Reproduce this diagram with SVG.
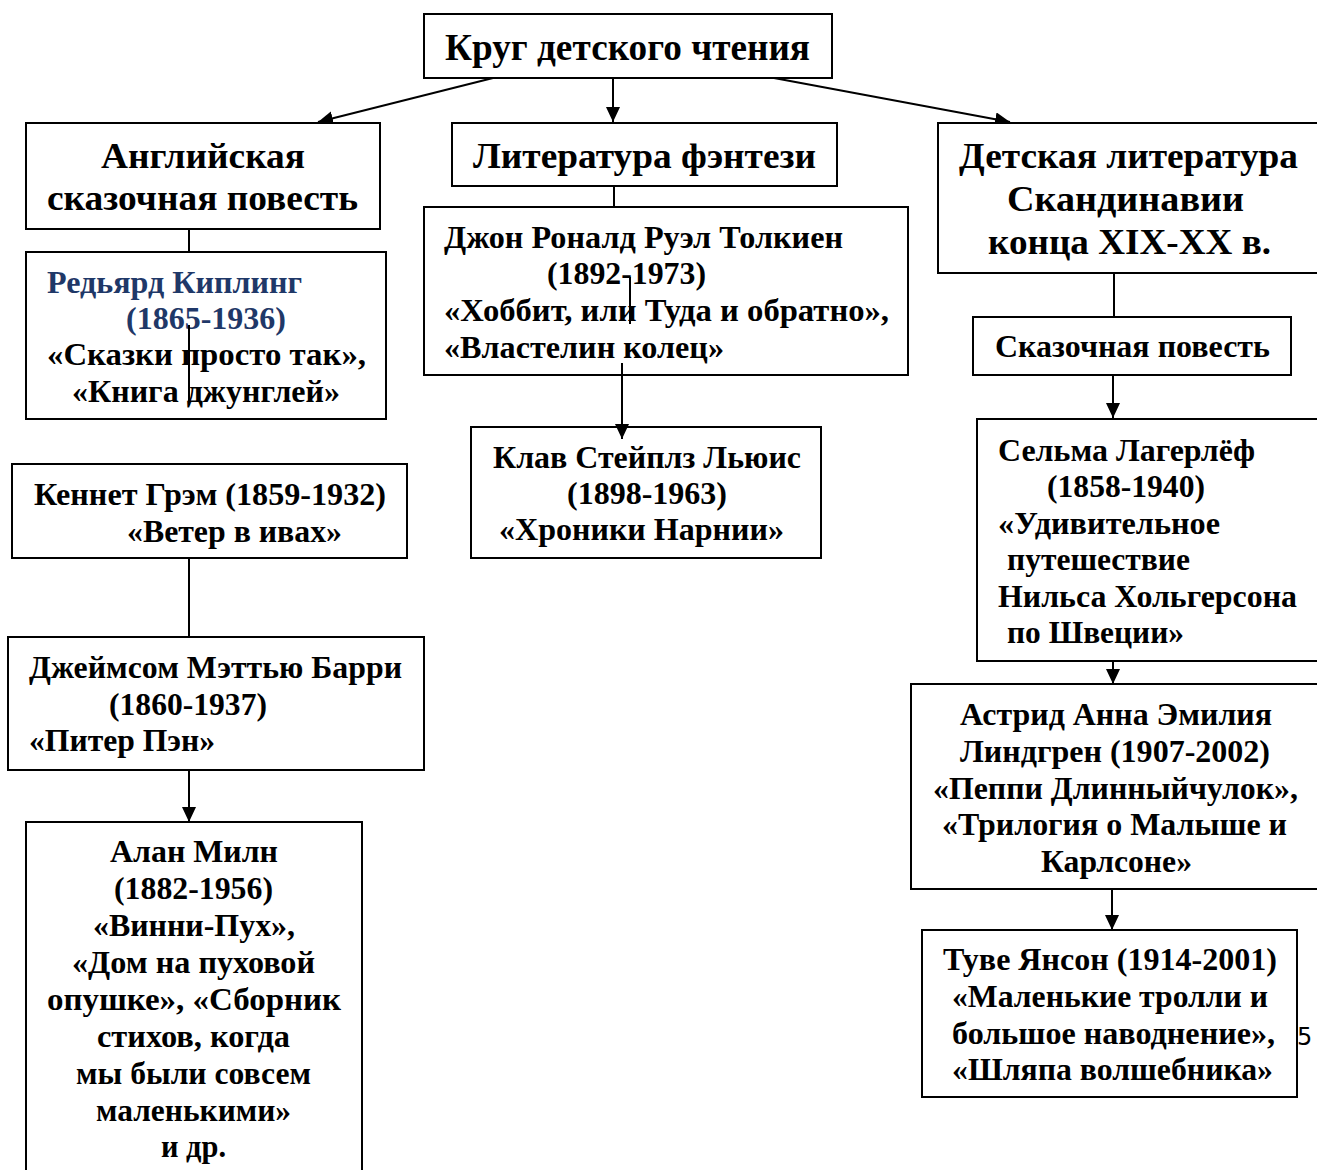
<svg xmlns="http://www.w3.org/2000/svg" width="1317" height="1170" viewBox="0 0 1317 1170">
<style>
rect.box{fill:#fff;stroke:#000;stroke-width:2}
text{font-family:'Liberation Serif','Times New Roman',serif;font-weight:bold;fill:#000}
.h1{font-size:38px}
.h2{font-size:36px}
.t{font-size:32px}
.blue{fill:#1F3868}
.conn line{stroke:#000;stroke-width:2}
.num{font-family:'DejaVu Sans','Liberation Sans',sans-serif;font-weight:normal;font-size:24px}
</style>
<defs>
<marker id="arr" markerUnits="userSpaceOnUse" markerWidth="16" markerHeight="16" refX="15" refY="7" orient="auto">
<path d="M0,0 L15,7 L0,14 z" fill="#000"/>
</marker>
</defs>
<rect width="1317" height="1170" fill="#fff"/>

<g id="connectors" class="conn">
<line x1="493" y1="78" x2="318" y2="122" marker-end="url(#arr)"/>
<line x1="613" y1="78" x2="613" y2="122" marker-end="url(#arr)"/>
<line x1="774" y1="78" x2="1010" y2="122" marker-end="url(#arr)"/>
<line x1="189" y1="229" x2="189" y2="252"/>
<line x1="614" y1="186" x2="614" y2="207"/>
<line x1="1114" y1="273" x2="1114" y2="317"/>
<line x1="189" y1="558" x2="189" y2="637"/>
<line x1="189" y1="770" x2="189" y2="822" marker-end="url(#arr)"/>
<line x1="1113" y1="375" x2="1113" y2="418" marker-end="url(#arr)"/>
<line x1="1113" y1="661" x2="1113" y2="684" marker-end="url(#arr)"/>
<line x1="1112" y1="889" x2="1112" y2="930" marker-end="url(#arr)"/>
</g>

<g id="root">
<rect class="box" x="424" y="14" width="408" height="64"/>
<text class="h1" x="445" y="60" textLength="365" lengthAdjust="spacingAndGlyphs">Круг детского чтения</text>
</g>

<g id="english">
<rect class="box" x="26" y="123" width="354" height="106"/>
<text class="h2" x="101" y="168" textLength="204" lengthAdjust="spacingAndGlyphs">Английская</text>
<text class="h2" x="47" y="210" textLength="311" lengthAdjust="spacingAndGlyphs">сказочная повесть</text>
</g>

<g id="fantasy">
<rect class="box" x="452" y="123" width="385" height="63"/>
<text class="h2" x="473" y="168" textLength="343" lengthAdjust="spacingAndGlyphs">Литература фэнтези</text>
</g>

<g id="scandinavia">
<rect class="box" x="938" y="123" width="420" height="150"/>
<text class="h2" x="959" y="168" textLength="339" lengthAdjust="spacingAndGlyphs">Детская литература</text>
<text class="h2" x="1007" y="211" textLength="237" lengthAdjust="spacingAndGlyphs">Скандинавии</text>
<text class="h2" x="988" y="254" textLength="283" lengthAdjust="spacingAndGlyphs">конца XIX-XX в.</text>
</g>

<g id="kipling">
<rect class="box" x="26" y="252" width="360" height="167"/>
<text class="t blue" x="47" y="293" textLength="255" lengthAdjust="spacingAndGlyphs">Редьярд Киплинг</text>
<text class="t blue" x="126" y="329" textLength="160" lengthAdjust="spacingAndGlyphs">(1865-1936)</text>
<text class="t" x="47" y="365" textLength="319" lengthAdjust="spacingAndGlyphs">«Сказки  просто так»,</text>
<text class="t" x="72" y="402" textLength="268" lengthAdjust="spacingAndGlyphs">«Книга джунглей»</text>
<line x1="189" y1="325" x2="189" y2="405" stroke="#000" stroke-width="2"/>
</g>

<g id="tolkien">
<rect class="box" x="424" y="207" width="484" height="168"/>
<text class="t" x="444" y="248" textLength="399" lengthAdjust="spacingAndGlyphs">Джон Роналд Руэл Толкиен</text>
<text class="t" x="547" y="284" textLength="159" lengthAdjust="spacingAndGlyphs">(1892-1973)</text>
<text class="t" x="444" y="321" textLength="445" lengthAdjust="spacingAndGlyphs">«Хоббит, или Туда и обратно»,</text>
<text class="t" x="444" y="358" textLength="280" lengthAdjust="spacingAndGlyphs">«Властелин колец»</text>
<line x1="630" y1="277" x2="630" y2="324" stroke="#000" stroke-width="2"/>
</g>

<g id="lewis">
<rect class="box" x="471" y="427" width="350" height="131"/>
<text class="t" x="493" y="468" textLength="308" lengthAdjust="spacingAndGlyphs">Клав Стейплз Льюис</text>
<text class="t" x="567" y="504" textLength="160" lengthAdjust="spacingAndGlyphs">(1898-1963)</text>
<text class="t" x="499" y="540" textLength="285" lengthAdjust="spacingAndGlyphs">«Хроники Нарнии»</text>
</g>
<g id="conn-lewis" class="conn">
<line x1="622" y1="363" x2="622" y2="439" marker-end="url(#arr)"/>
</g>

<g id="grahame">
<rect class="box" x="12" y="464" width="395" height="94"/>
<text class="t" x="34" y="505" textLength="352" lengthAdjust="spacingAndGlyphs">Кеннет Грэм (1859-1932)</text>
<text class="t" x="127" y="542" textLength="215" lengthAdjust="spacingAndGlyphs">«Ветер в ивах»</text>
</g>

<g id="barrie">
<rect class="box" x="8" y="637" width="416" height="133"/>
<text class="t" x="29" y="678" textLength="373" lengthAdjust="spacingAndGlyphs">Джеймсом Мэттью Барри</text>
<text class="t" x="109" y="715" textLength="158" lengthAdjust="spacingAndGlyphs">(1860-1937)</text>
<text class="t" x="29" y="751" textLength="186" lengthAdjust="spacingAndGlyphs">«Питер Пэн»</text>
</g>

<g id="milne">
<rect class="box" x="26" y="822" width="336" height="400"/>
<text class="t" x="110" y="862" textLength="168" lengthAdjust="spacingAndGlyphs">Алан Милн</text>
<text class="t" x="114" y="899" textLength="159" lengthAdjust="spacingAndGlyphs">(1882-1956)</text>
<text class="t" x="93" y="936" textLength="202" lengthAdjust="spacingAndGlyphs">«Винни-Пух»,</text>
<text class="t" x="72" y="973" textLength="243" lengthAdjust="spacingAndGlyphs">«Дом на пуховой</text>
<text class="t" x="47" y="1010" textLength="294" lengthAdjust="spacingAndGlyphs">опушке»,  «Сборник</text>
<text class="t" x="97" y="1047" textLength="193" lengthAdjust="spacingAndGlyphs">стихов, когда</text>
<text class="t" x="76" y="1084" textLength="235" lengthAdjust="spacingAndGlyphs">мы были совсем</text>
<text class="t" x="96" y="1121" textLength="195" lengthAdjust="spacingAndGlyphs">маленькими»</text>
<text class="t" x="161" y="1157" textLength="65" lengthAdjust="spacingAndGlyphs">и др.</text>
</g>

<g id="fairytale">
<rect class="box" x="973" y="317" width="318" height="58"/>
<text class="t" x="995" y="357" textLength="275" lengthAdjust="spacingAndGlyphs">Сказочная повесть</text>
</g>

<g id="lagerlof">
<rect class="box" x="977" y="419" width="420" height="242"/>
<text class="t" x="998" y="461" textLength="257" lengthAdjust="spacingAndGlyphs">Сельма Лагерлёф</text>
<text class="t" x="1047" y="497" textLength="158" lengthAdjust="spacingAndGlyphs">(1858-1940)</text>
<text class="t" x="998" y="534" textLength="222" lengthAdjust="spacingAndGlyphs">«Удивительное</text>
<text class="t" x="1007" y="570" textLength="183" lengthAdjust="spacingAndGlyphs">путешествие</text>
<text class="t" x="998" y="607" textLength="299" lengthAdjust="spacingAndGlyphs">Нильса Хольгерсона</text>
<text class="t" x="1007" y="643" textLength="177" lengthAdjust="spacingAndGlyphs">по Швеции»</text>
</g>

<g id="lindgren">
<rect class="box" x="911" y="684" width="450" height="205"/>
<text class="t" x="960" y="725" textLength="312" lengthAdjust="spacingAndGlyphs">Астрид Анна Эмилия</text>
<text class="t" x="960" y="762" textLength="310" lengthAdjust="spacingAndGlyphs">Линдгрен (1907-2002)</text>
<text class="t" x="933" y="799" textLength="365" lengthAdjust="spacingAndGlyphs">«Пеппи Длинныйчулок»,</text>
<text class="t" x="942" y="835" textLength="345" lengthAdjust="spacingAndGlyphs">«Трилогия о Малыше и</text>
<text class="t" x="1041" y="872" textLength="151" lengthAdjust="spacingAndGlyphs">Карлсоне»</text>
</g>

<g id="jansson">
<rect class="box" x="922" y="930" width="375" height="167"/>
<text class="t" x="943" y="970" textLength="334" lengthAdjust="spacingAndGlyphs">Туве Янсон (1914-2001)</text>
<text class="t" x="952" y="1007" textLength="316" lengthAdjust="spacingAndGlyphs">«Маленькие тролли и</text>
<text class="t" x="952" y="1044" textLength="323" lengthAdjust="spacingAndGlyphs">большое наводнение»,</text>
<text class="t" x="952" y="1080" textLength="321" lengthAdjust="spacingAndGlyphs">«Шляпа волшебника»</text>
</g>

<text class="num" x="1297" y="1045">5</text>
</svg>
